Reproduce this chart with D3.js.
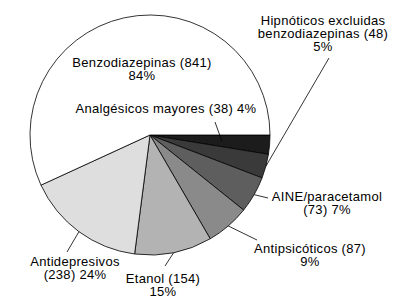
<!DOCTYPE html>
<html>
<head>
  <meta charset="utf-8">
  <script src="https://cdn.jsdelivr.net/npm/d3@7"></script>
  <style>
    body { margin: 0; background: #ffffff; }
    text { font-family: "Liberation Sans", Arial, sans-serif; font-size: 13px; letter-spacing: 0.3px; fill: #000; }
  </style>
</head>
<body>
  <svg width="400" height="299" id="mainsvg"></svg>
  <script>
    // slices, clockwise from 3 o'clock
    const categories = ["Analgésicos mayores", "Hipnóticos excluidas benzodiazepinas", "AINE/paracetamol",
      "Antipsicóticos", "Etanol", "Antidepresivos", "Benzodiazepinas"];
    const counts = [38, 48, 73, 87, 154, 238, 841];
    const pctLabels = ["4%", "5%", "7%", "9%", "15%", "24%", "84%"];
    const greys = ["#1c1c1c", "#3a3a3a", "#5e5e5e", "#8a8a8a", "#b3b3b3", "#dedede", "#ffffff"];

    // label text lines for each slice (same order)
    const labelLines = [
      ["Analgésicos mayores (38) 4%"],
      ["Hipnóticos excluidas", "benzodiazepinas (48)", "5%"],
      ["AINE/paracetamol", "(73) 7%"],
      ["Antipsicóticos (87)", "9%"],
      ["Etanol (154)", "15%"],
      ["Antidepresivos", "(238) 24%"],
      ["Benzodiazepinas (841)", "84%"]
    ];

    const svg = d3.select('#mainsvg');
    const cx = 150, cy = 135, radius = 120;
    const lineH = 13;

    // layout: label anchor (text center, first baseline), leader end, leader start radius factor
    const layout = [
      { x: 166, y: 113, lx: 215, ly: 122, k: 0.6 },
      { x: 323, y: 25, lx: 329, ly: 58, k: 1.0 },
      { x: 327, y: 201, lx: 268, ly: 198, k: 1.0 },
      { x: 310, y: 253, lx: 257, ly: 240, k: 1.0 },
      { x: 163, y: 283, lx: 165, ly: 266, k: 1.0 },
      { x: 75, y: 266, lx: 67, ly: 252, k: 1.0 },
      { x: 142, y: 67, lx: null, ly: null, k: 0 }
    ];

    const data = categories.map((c, i) => ({ name: c, value: counts[i], i: i }));

    const pie = d3.pie()
      .value(d => d.value)
      .sort(null)
      .startAngle(Math.PI / 2)
      .endAngle(Math.PI / 2 + 2 * Math.PI);
    const arcs = pie(data);
    const arc = d3.arc().innerRadius(0).outerRadius(radius);

    const g = svg.append('g').attr('transform', `translate(${cx}, ${cy})`);

    g.selectAll('path')
      .data(arcs)
      .enter()
      .append('path')
      .attr('d', arc)
      .attr('fill', d => greys[d.data.i])
      .attr('stroke', '#000')
      .attr('stroke-width', 0.8)
      .attr('stroke-linejoin', 'round');

    // leader lines
    arcs.forEach(a => {
      const L = layout[a.data.i];
      if (L.lx === null) return;
      const mid = (a.startAngle + a.endAngle) / 2;
      const r = radius * L.k;
      const sx = cx + Math.sin(mid) * r;
      const sy = cy - Math.cos(mid) * r;
      svg.append('line')
        .attr('x1', sx).attr('y1', sy)
        .attr('x2', L.lx).attr('y2', L.ly)
        .attr('stroke', '#000')
        .attr('stroke-width', 0.8);
    });

    // labels
    labelLines.forEach((lines, i) => {
      const L = layout[i];
      const t = svg.append('text')
        .attr('text-anchor', 'middle');
      lines.forEach((s, j) => {
        t.append('tspan')
          .attr('x', L.x)
          .attr('y', L.y + j * lineH)
          .text(s);
      });
    });
  </script>
</body>
</html>
